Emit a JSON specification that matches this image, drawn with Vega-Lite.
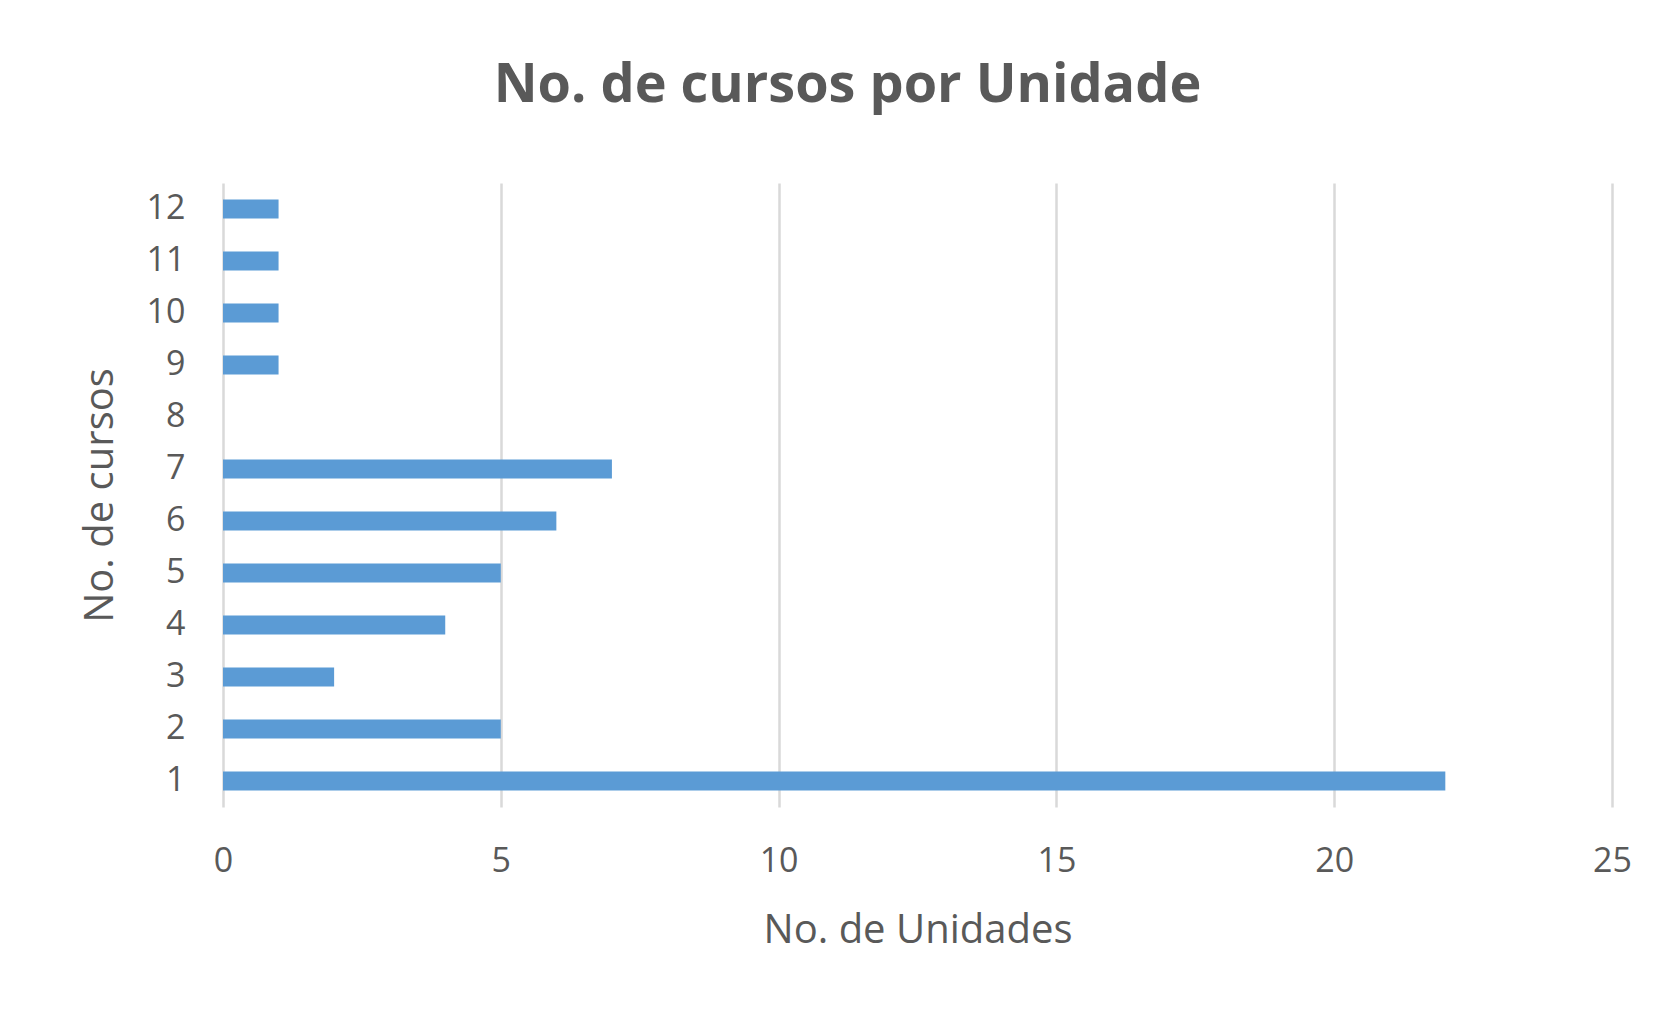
{
  "$schema": "https://vega.github.io/schema/vega-lite/v6.json",
  "autosize": "none",
  "width": 1389,
  "height": 624,
  "padding": {"left": 223, "top": 183, "right": 53, "bottom": 203},
  "background": "white",
  "title": {
    "text": "No. de cursos por Unidade",
    "font": "Open Sans",
    "fontSize": 54,
    "fontWeight": "bold",
    "color": "#595959",
    "anchor": "middle",
    "dx": -70,
    "offset": 70
  },
  "data": {
    "values": [
      {"cursos": 1, "unidades": 22},
      {"cursos": 2, "unidades": 5},
      {"cursos": 3, "unidades": 2},
      {"cursos": 4, "unidades": 4},
      {"cursos": 5, "unidades": 5},
      {"cursos": 6, "unidades": 6},
      {"cursos": 7, "unidades": 7},
      {"cursos": 8, "unidades": 0},
      {"cursos": 9, "unidades": 1},
      {"cursos": 10, "unidades": 1},
      {"cursos": 11, "unidades": 1},
      {"cursos": 12, "unidades": 1}
    ]
  },
  "mark": {"type": "bar", "color": "#5b9bd5"},
  "encoding": {
    "y": {
      "field": "cursos",
      "type": "ordinal",
      "sort": "descending",
      "scale": {"paddingInner": 0.63, "paddingOuter": 0.315},
      "axis": {
        "title": "No. de cursos",
        "labelAngle": 0,
        "labelFont": "Open Sans",
        "labelFontSize": 34,
        "labelColor": "#595959",
        "labelPadding": 38,
        "ticks": false,
        "domain": false,
        "titleFont": "Open Sans",
        "titleFontSize": 40,
        "titleFontWeight": "normal",
        "titleColor": "#595959",
        "titlePadding": 26
      }
    },
    "x": {
      "field": "unidades",
      "type": "quantitative",
      "scale": {"domain": [0, 25], "nice": false},
      "axis": {
        "title": "No. de Unidades",
        "values": [0, 5, 10, 15, 20, 25],
        "labelFlush": false,
        "labelFont": "Open Sans",
        "labelFontSize": 34,
        "labelColor": "#595959",
        "labelPadding": 37,
        "ticks": false,
        "domain": false,
        "grid": true,
        "gridColor": "#d9d9d9",
        "gridWidth": 2.5,
        "titleFont": "Open Sans",
        "titleFontSize": 40,
        "titleFontWeight": "normal",
        "titleColor": "#595959",
        "titlePadding": 32
      }
    }
  },
  "config": {"view": {"stroke": null}}
}
